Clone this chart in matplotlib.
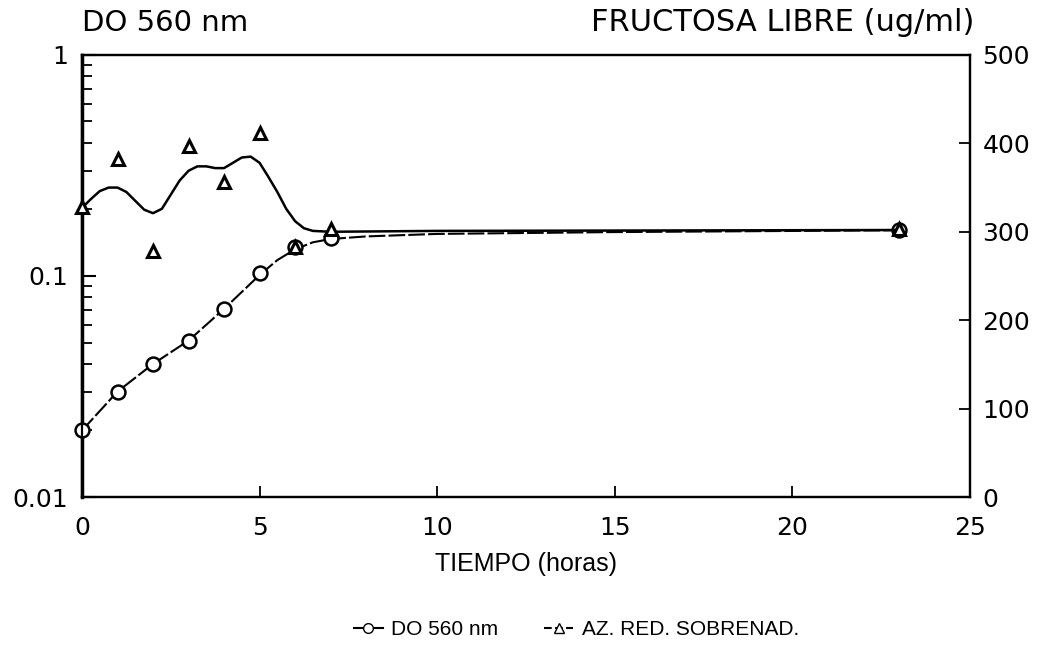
import matplotlib
matplotlib.use("Agg")
import matplotlib.pyplot as plt
from matplotlib.lines import Line2D

plt.rcParams['font.family'] = ['DejaVu Sans']

# DO 560 nm (left axis, log)
t_do = [0, 1, 2, 3, 4, 5, 6, 7, 23]
do560 = [0.020, 0.030, 0.040, 0.051, 0.071, 0.103, 0.135, 0.149, 0.161]
# smooth curve through DO points
t_do_fit = [0, 1, 2, 3, 4, 5, 5.5, 6, 6.5, 7, 8, 10, 15, 23]
do_fit = [0.020, 0.030, 0.040, 0.051, 0.071, 0.101, 0.118, 0.132, 0.142, 0.147, 0.151, 0.155, 0.158, 0.161]

# reducing sugar in supernatant (right axis)
t_az = [0, 1, 2, 3, 4, 5, 6, 7, 23]
az_red = [328, 382, 278, 397, 356, 412, 283, 303, 303]
# smooth curve
t_az_fit = [0, 0.25, 0.5, 0.75, 1.0, 1.25, 1.5, 1.75, 2.0, 2.25, 2.5, 2.75, 3.0,
            3.25, 3.5, 3.75, 4.0, 4.25, 4.5, 4.75, 5.0, 5.25, 5.5, 5.75, 6.0,
            6.25, 6.5, 7, 10, 23]
az_fit = [327, 337, 346, 350, 350, 345, 335, 325, 321, 326, 342, 358, 369,
          374, 374, 372, 372, 378, 384, 385, 378, 362, 345, 326, 312,
          304, 301, 300, 301, 302]

fig = plt.figure(figsize=(10.42, 6.54), dpi=100)
ax = fig.add_axes([0.0787, 0.240, 0.852, 0.676])
ax2 = ax.twinx()

ax.plot(t_do_fit, do_fit, color='black', lw=1.5, dashes=(8, 1.5))
ax.plot(t_do, do560, 'o', mfc='white', mec='black', mew=1.8, ms=10, ls='none',
        clip_on=False, zorder=3)
ax2.plot(t_az_fit, az_fit, color='black', lw=1.8)
ax2.plot(t_az, az_red, '^', mfc='white', mec='black', mew=2.2, ms=9, ls='none',
         clip_on=False, zorder=3)

ax.set_yscale('log')
ax.set_ylim(0.01, 1)
ax.set_xlim(0, 25)
ax2.set_ylim(0, 500)
ax.set_xticks([0, 5, 10, 15, 20, 25])
ax.set_yticks([0.01, 0.1, 1])
ax.set_yticklabels(['0.01', '0.1', '1'])
ax2.set_yticks([0, 100, 200, 300, 400, 500])

ax.tick_params(axis='y', which='major', direction='in', length=10, width=1.5, labelsize=18, pad=10)
ax.tick_params(axis='y', which='minor', direction='in', length=7, width=1.3)
ax.tick_params(axis='x', direction='in', length=8, width=1.3, labelsize=18, pad=14)
ax2.tick_params(axis='y', direction='in', length=8, width=1.3, labelsize=18, pad=9)

for a in (ax, ax2):
    for s in a.spines.values():
        s.set_linewidth(1.6)
ax.spines['left'].set_linewidth(2.5)

ax.set_xlabel('TIEMPO (horas)', fontsize=18, labelpad=8, family='Liberation Sans')
fig.text(0.0787, 0.965, 'DO 560 nm', fontsize=21, ha='left', va='center')
fig.text(0.935, 0.965, 'FRUCTOSA LIBRE (ug/ml)', fontsize=22, ha='right', va='center')

handles = [
    Line2D([], [], color='black', lw=1.5, marker='o', mfc='white', mec='black', ms=7),
    Line2D([], [], color='black', lw=1.5, ls='--', marker='^', mfc='white', mec='black', ms=7),
]
fig.legend(handles, ['DO 560 nm', 'AZ. RED. SOBRENAD.'], loc='center',
           bbox_to_anchor=(0.553, 0.037), ncol=2, frameon=False,
           prop={'family': 'Liberation Sans', 'size': 15},
           handlelength=1.4, columnspacing=2.2, handletextpad=0.4)

fig.savefig('out.png', dpi=100)
